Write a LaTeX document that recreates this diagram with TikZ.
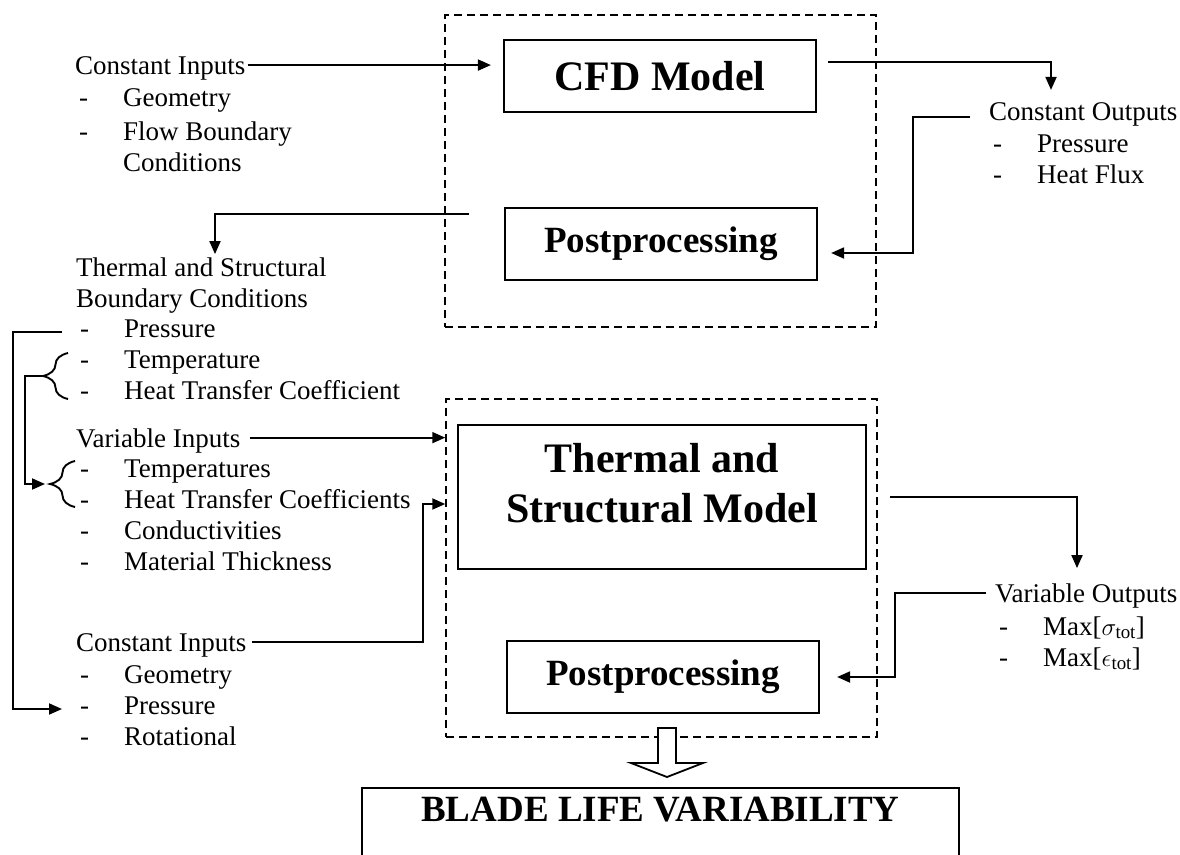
\documentclass[tikz,border=0pt]{standalone}
\usepackage{fontspec}
\setmainfont{Liberation Serif}
\usetikzlibrary{arrows.meta,decorations.pathreplacing}

\newcommand{\bfbig}{\fontsize{42}{50}\selectfont\bfseries}
\newcommand{\bfmid}{\fontsize{37}{44}\selectfont\bfseries}

\tikzset{
  model/.style={draw, line width=2.2pt, inner sep=0pt, minimum width=312pt, minimum height=72pt},
  group/.style={draw, line width=1.5pt, dash pattern=on 8pt off 5pt, inner sep=0pt},
  txt/.style={inner sep=0pt, anchor=base west, font=\fontsize{27}{31}\selectfont},
  head/.style={txt, text depth=0pt},
  link/.style={line width=1.9pt},
  flow/.style={link, -{Triangle[length=13pt,width=11pt]}},
  curly/.style={link, decorate, decoration={brace, amplitude=25pt, aspect=0.5}},
  hollow/.style={draw, fill=white, line width=1.8pt, line join=miter}
}

\begin{document}
\begin{tikzpicture}[x=1pt, y=-1pt]
\path[use as bounding box] (0,0) rectangle (1180,854);
\clip (0,0) rectangle (1180,854);

% dashed frames
\node[group, minimum width=431pt, minimum height=312pt] (cfdgrp) at (660.5,171) {};
\node[group, minimum width=431pt, minimum height=338pt] (tsgrp) at (661.5,568) {};

% model boxes
\node[model, font=\bfbig] (cfd) at (660,76) {CFD Model};
\node[model, font=\bfmid] (post1) at (661,244) {Postprocessing};
\node[model, font=\bfbig, minimum width=408pt, minimum height=144pt] (tsm) at (662,497)
  {\begin{tabular}{@{}c@{}}Thermal and\\Structural Model\\[20pt]\end{tabular}};
\node[model, font=\bfmid] (post2) at (663,677) {Postprocessing};
\node[model, font=\bfmid, anchor=north, minimum width=597pt, inner ysep=9pt, text depth=80pt]
  (life) at (660.5,787) {BLADE LIFE VARIABILITY};

% inputs, left side
\node[head] (cin) at (75,74) {Constant Inputs};
\node[txt] (cinlist) at (75,106) {\begin{tabular}[t]{@{\hspace{4pt}}p{44pt}@{}l@{}}
  -&Geometry\\[3pt]
  -&Flow Boundary\\
   &Conditions\end{tabular}};
\node[txt] (tsbc) at (76,276) {\begin{tabular}[t]{@{}l@{}}
  Thermal and Structural\\Boundary Conditions\end{tabular}};
\node[txt] (tsbclist) at (76,337) {\begin{tabular}[t]{@{\hspace{4pt}}p{44pt}@{}l@{}}
  -&Pressure\\
  -&Temperature\\
  -&Heat Transfer Coefficient\end{tabular}};
\node[head] (vin) at (76,447) {Variable Inputs};
\node[txt] (vinlist) at (76,477) {\begin{tabular}[t]{@{\hspace{4pt}}p{44pt}@{}l@{}}
  -&Temperatures\\
  -&Heat Transfer Coefficients\\
  -&Conductivities\\
  -&Material Thickness\end{tabular}};
\node[head] (cin2) at (76,651) {Constant Inputs};
\node[txt] (cin2list) at (76,683) {\begin{tabular}[t]{@{\hspace{4pt}}p{44pt}@{}l@{}}
  -&Geometry\\
  -&Pressure\\
  -&Rotational\end{tabular}};

% outputs, right side
\node[head] (cout) at (989,120) {Constant Outputs};
\node[txt] (coutlist) at (989,152) {\begin{tabular}[t]{@{\hspace{4pt}}p{44pt}@{}l@{}}
  -&Pressure\\
  -&Heat Flux\end{tabular}};
\node[head] (vout) at (995,602) {Variable Outputs};
\node[txt] (voutlist) at (995,635) {\begin{tabular}[t]{@{\hspace{4pt}}p{44pt}@{}l@{}}
  -&Max[$\sigma_{\mathrm{tot}}$]\\
  -&Max[$\epsilon_{\mathrm{tot}}$]\end{tabular}};

% braces
\draw[curly] (68,399) -- (68,353);
\coordinate (b1) at (43,376);
\draw[curly] (75,507) -- (75,461);
\coordinate (b2) at (50,484);

\coordinate (pin) at ([xshift=-14pt,yshift=5pt]tsbclist.base west);
\coordinate (pout) at ([xshift=-14pt,yshift=-26pt]cin2list.base west);
\coordinate (hjoin) at (423,504);

% connectors
\draw[flow, shorten <=2pt, shorten >=12pt] (cin.east) -- (cin.east -| cfd.west);
\draw[flow, shorten <=11pt, shorten >=12pt] ([yshift=14pt]cfd.east) -| ([xshift=62pt]cout.north west);
\draw[flow, shorten <=19pt, shorten >=13pt] ([yshift=-6pt]cout.west) -- ++(-76,0) |- ([yshift=-9pt]post1.east);
\draw[flow, shorten <=35pt] ([yshift=30pt]post1.west) -| ([xshift=139pt]tsbc.north west);
\draw[flow] (pin) -- ++(-49,0) |- (pout);
\draw[flow, shorten >=5pt] (b1) -- ++(-18,0) |- (b2);
\draw[flow, shorten <=9pt] (vin.east) -- (vin.east -| tsgrp.west);
\draw[flow, shorten <=5pt] (cin2.east) -| (hjoin) -- (hjoin -| tsgrp.west);
\draw[flow, shorten <=23pt, shorten >=15pt] (tsm.east) -| ([xshift=82pt]vout.north west);
\draw[flow, shorten <=9pt, shorten >=17pt] (vout.west) -- ++(-100,0) |- (post2.east);

% hollow arrow down to the result
\draw[hollow] (658,728) -- (676,728) -- (676,763) -- (703,763) -- (667,777)
  -- (631,763) -- (658,763) -- cycle;
\end{tikzpicture}
\end{document}
